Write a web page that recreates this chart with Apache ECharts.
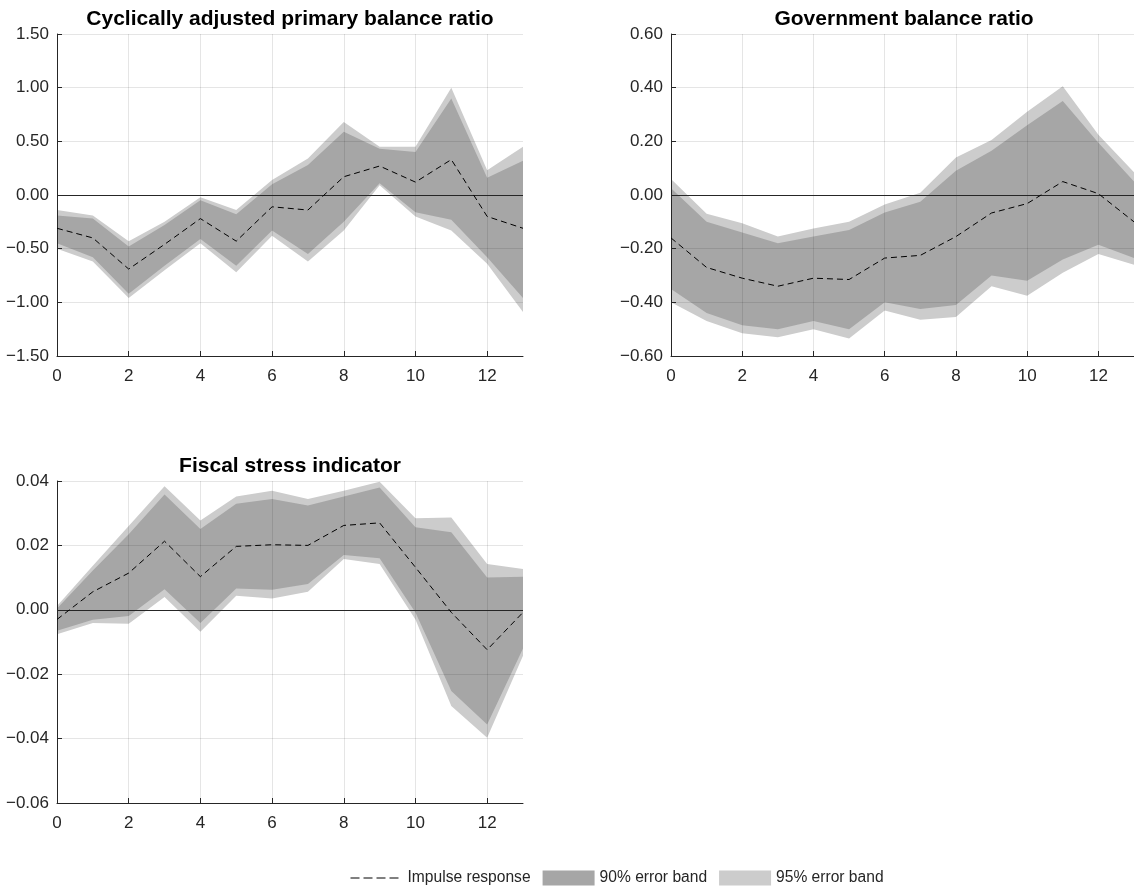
<!DOCTYPE html>
<html>
<head>
<meta charset="utf-8">
<title>Impulse responses</title>
<script src="https://cdn.jsdelivr.net/npm/echarts@6/dist/echarts.min.js"></script>
<style>
  html, body { margin: 0; padding: 0; background: #ffffff; }
  #chart { width: 1134px; height: 889px; }
</style>
</head>
<body>
<div id="chart"></div>
<script>
// Horizon (periods after the shock)
const steps = [0, 1, 2, 3, 4, 5, 6, 7, 8, 9, 10, 11, 12, 13];

// Cyclically adjusted primary balance ratio
const capbIrf  = [-0.31, -0.40, -0.69, -0.46, -0.22, -0.43, -0.11, -0.14, 0.17, 0.27, 0.12, 0.33, -0.20, -0.31];
const capbLo90 = [-0.45, -0.58, -0.92, -0.66, -0.41, -0.66, -0.33, -0.55, -0.25, 0.11, -0.16, -0.23, -0.58, -0.96];
const capbHi90 = [-0.19, -0.22, -0.48, -0.28, -0.05, -0.18, 0.10, 0.28, 0.59, 0.43, 0.40, 0.90, 0.16, 0.32];
const capbLo95 = [-0.50, -0.62, -0.96, -0.70, -0.45, -0.72, -0.38, -0.62, -0.33, 0.09, -0.20, -0.33, -0.64, -1.09];
const capbHi95 = [-0.14, -0.19, -0.43, -0.25, -0.02, -0.14, 0.14, 0.34, 0.68, 0.45, 0.45, 1.00, 0.23, 0.45];

// Government balance ratio
const gbIrf  = [-0.16, -0.27, -0.31, -0.34, -0.31, -0.315, -0.235, -0.225, -0.155, -0.067, -0.032, 0.05, 0.005, -0.10];
const gbLo90 = [-0.35, -0.44, -0.485, -0.50, -0.47, -0.50, -0.40, -0.425, -0.41, -0.30, -0.32, -0.24, -0.185, -0.235];
const gbHi90 = [0.025, -0.10, -0.14, -0.18, -0.155, -0.13, -0.065, -0.025, 0.09, 0.165, 0.26, 0.35, 0.195, 0.05];
const gbLo95 = [-0.40, -0.47, -0.515, -0.53, -0.50, -0.535, -0.43, -0.465, -0.455, -0.34, -0.375, -0.29, -0.22, -0.26];
const gbHi95 = [0.06, -0.07, -0.105, -0.155, -0.125, -0.10, -0.035, 0.008, 0.14, 0.205, 0.31, 0.405, 0.225, 0.085];

// Fiscal stress indicator
const fsiIrf  = [-0.003, 0.0056, 0.0114, 0.0213, 0.0103, 0.0197, 0.0202, 0.020, 0.0262, 0.027, 0.0132, -0.0008, -0.0124, -0.0008];
const fsiLo90 = [-0.0065, -0.0031, -0.0019, 0.0064, -0.0041, 0.0066, 0.0062, 0.008, 0.017, 0.016, -0.0008, -0.0252, -0.0356, -0.012];
const fsiHi90 = [0.0004, 0.0122, 0.0235, 0.0358, 0.0251, 0.0329, 0.0344, 0.0324, 0.0352, 0.038, 0.0256, 0.0241, 0.010, 0.0103];
const fsiLo95 = [-0.0076, -0.0041, -0.0043, 0.004, -0.0068, 0.0044, 0.0035, 0.0056, 0.0158, 0.0142, -0.003, -0.0299, -0.0397, -0.0143];
const fsiHi95 = [0.0012, 0.0137, 0.026, 0.0384, 0.0277, 0.0352, 0.037, 0.0344, 0.037, 0.0398, 0.0284, 0.0287, 0.0142, 0.0127];

// Panel titles and y-axis ranges
const panelTitles = ['Cyclically adjusted primary balance ratio', 'Government balance ratio', 'Fiscal stress indicator'];
const yRanges = [
  { min: -1.5, max: 1.5, interval: 0.5 },
  { min: -0.6, max: 0.6, interval: 0.2 },
  { min: -0.06, max: 0.04, interval: 0.02 }
];
const legendNames = ['Impulse response', '90% error band', '95% error band'];

const FONT = '"Liberation Sans", Arial, Helvetica, sans-serif';
const BAND90 = '#a6a6a6';
const BAND95 = '#cccccc';
const AXIS = '#262626';

const panels = [
  { irf: capbIrf, lo90: capbLo90, hi90: capbHi90, lo95: capbLo95, hi95: capbHi95 },
  { irf: gbIrf, lo90: gbLo90, hi90: gbHi90, lo95: gbLo95, hi95: gbHi95 },
  { irf: fsiIrf, lo90: fsiLo90, hi90: fsiHi90, lo95: fsiLo95, hi95: fsiHi95 }
];

// Plot rectangles
const grids = [
  { left: 57, top: 34, width: 466, height: 322 },
  { left: 671, top: 34, width: 466, height: 322 },
  { left: 57, top: 481, width: 466, height: 322 }
];

// Tick values use a true minus sign
function fmtTick(v) {
  const s = Math.abs(v).toFixed(2);
  return v < -1e-12 ? '\u2212' + s : s;
}

// Filled band between a lower and an upper bound, drawn as one polygon
function bandSeries(idx, name, lo, hi, color, z) {
  return {
    type: 'custom',
    name: name,
    xAxisIndex: idx,
    yAxisIndex: idx,
    z: z,
    silent: true,
    itemStyle: { color: color },
    encode: { x: 0, y: [1, 2] },
    data: steps.map((s, i) => [s, lo[i], hi[i]]),
    renderItem: function (params, api) {
      if (params.dataIndex !== 0) return;
      const pts = [];
      for (let i = 0; i < steps.length; i++) pts.push(api.coord([steps[i], hi[i]]));
      for (let i = steps.length - 1; i >= 0; i--) pts.push(api.coord([steps[i], lo[i]]));
      return { type: 'polygon', shape: { points: pts }, style: { fill: color } };
    }
  };
}

const series = [];
panels.forEach((p, idx) => {
  series.push(bandSeries(idx, legendNames[2], p.lo95, p.hi95, BAND95, 1));
  series.push(bandSeries(idx, legendNames[1], p.lo90, p.hi90, BAND90, 2));
  series.push({
    type: 'line',
    name: legendNames[0],
    xAxisIndex: idx,
    yAxisIndex: idx,
    z: 5,
    silent: true,
    symbol: 'none',
    color: '#000000',
    lineStyle: { color: '#000000', width: 1, type: [6, 4] },
    data: steps.map((s, i) => [s, p.irf[i]]),
    markLine: {
      silent: true,
      symbol: 'none',
      label: { show: false },
      lineStyle: { color: AXIS, width: 1, type: 'solid' },
      data: [{ yAxis: 0 }]
    }
  });
});

const xAxes = grids.map((g, idx) => ({
  type: 'value',
  gridIndex: idx,
  min: 0,
  max: 13,
  interval: 2,
  z: 4,
  axisLine: { show: true, onZero: false, lineStyle: { color: AXIS, width: 1 } },
  axisTick: { show: true, inside: true, length: 5, lineStyle: { color: AXIS } },
  axisLabel: {
    color: AXIS, fontSize: 17, fontFamily: FONT, margin: 12,
    showMaxLabel: false,
    formatter: v => (v % 2 === 0 ? String(v) : '')
  },
  splitLine: { show: true, showMinLine: false, showMaxLine: false, lineStyle: { color: 'rgba(0,0,0,0.10)', width: 1 } }
}));

const yAxes = grids.map((g, idx) => ({
  type: 'value',
  gridIndex: idx,
  min: yRanges[idx].min,
  max: yRanges[idx].max,
  interval: yRanges[idx].interval,
  z: 4,
  axisLine: { show: true, onZero: false, lineStyle: { color: AXIS, width: 1 } },
  axisTick: { show: true, inside: true, length: 5, lineStyle: { color: AXIS } },
  axisLabel: { color: AXIS, fontSize: 17, fontFamily: FONT, margin: 8, formatter: fmtTick },
  splitLine: { show: true, showMinLine: false, lineStyle: { color: 'rgba(0,0,0,0.10)', width: 1 } }
}));

const titles = panelTitles.map((t, idx) => ({
  text: t,
  left: grids[idx].left + grids[idx].width / 2,
  top: grids[idx].top - 25,
  textAlign: 'center',
  padding: 0,
  textStyle: { fontFamily: FONT, fontSize: 21, fontWeight: 'bold', color: '#000000' }
}));

const chart = echarts.init(document.getElementById('chart'), null, { renderer: 'canvas' });
chart.setOption({
  animation: false,
  backgroundColor: '#ffffff',
  title: titles,
  grid: grids.map(g => Object.assign({ containLabel: false }, g)),
  xAxis: xAxes,
  yAxis: yAxes,
  legend: {
    left: 350,
    top: 870,
    selectedMode: false,
    itemWidth: 52,
    itemHeight: 15,
    itemGap: 12,
    padding: 0,
    textStyle: { fontFamily: FONT, fontSize: 15.6, color: AXIS },
    data: [
      { name: legendNames[0], itemStyle: { opacity: 0 }, lineStyle: { type: [9, 4], width: 1, color: '#000000' } },
      { name: legendNames[1], icon: 'rect' },
      { name: legendNames[2], icon: 'rect' }
    ]
  },
  series: series
});
</script>
</body>
</html>
